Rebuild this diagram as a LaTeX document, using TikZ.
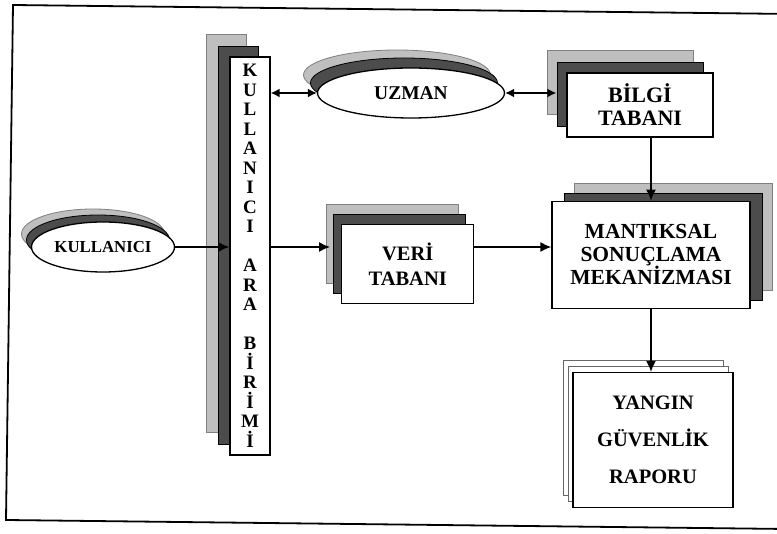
\documentclass[tikz,border=0pt]{standalone}
\usepackage{fontspec}
\setmainfont{Liberation Serif}
\usetikzlibrary{arrows.meta,positioning,shapes.geometric,shadows}

\begin{document}
\begin{tikzpicture}[
  x=1pt, y=-1pt,
  box/.style={draw, rectangle, line width=1.3pt, fill=white, align=center, inner sep=0pt},
  oval/.style={draw, ellipse, line width=1.3pt, fill=white, inner sep=0pt},
  layers/.style n args={4}{
    general shadow={shadow xshift=#3pt, shadow yshift=#4pt, fill=black!25, draw=black!50, line width=0.8pt},
    general shadow={shadow xshift=#1pt, shadow yshift=#2pt, fill=black!70, draw=black, line width=0.8pt}},
  thinlayers/.style={
    general shadow={shadow xshift=-10pt, shadow yshift=12pt, fill=white, draw=black!60, line width=0.8pt},
    general shadow={shadow xshift=-5pt, shadow yshift=6pt, fill=white, draw=black!60, line width=0.8pt}},
  arr/.style={line width=1.6pt, -{Latex[length=11pt,width=10pt]}},
  biarr/.style={line width=1.6pt, {Latex[length=9pt,width=9pt]}-{Latex[length=9pt,width=9pt]}},
  txt/.style={font=\bfseries\fontsize{21.5}{23}\selectfont},
  node distance=63pt and 77pt
]
\useasboundingbox (0,0) rectangle (777,534);
\clip (0,0) rectangle (777,534);

% Frame
\draw[line width=1.8pt] (13,5) -- (792,14) -- (787,529) -- (6,520) -- cycle;

% User side
\node (kab) [box, layers={-12}{11}{-24}{23}, minimum width=40pt, minimum height=398pt,
  font=\bfseries\fontsize{19}{19.5}\selectfont] at (250,256)
  {K\\U\\L\\L\\A\\N\\I\\C\\I\\[19.5pt]A\\R\\A\\[19.5pt]B\\İ\\R\\İ\\M\\İ};
\node (kullanici) [oval, layers={-5}{7}{-10}{13}, minimum width=143pt, minimum height=50pt,
  font=\bfseries\fontsize{16.8}{20}\selectfont] at (103,247) {KULLANICI};

% Expert and knowledge
\node (uzman) [oval, layers={-7}{10}{-14}{18}, minimum width=187pt, minimum height=50pt,
  font=\bfseries\fontsize{19.5}{22}\selectfont] at (411,93) {UZMAN};
\node (bilgi) [box, layers={-10}{11}{-20}{23}, minimum width=146pt, minimum height=64pt,
  font=\bfseries\fontsize{22}{23}\selectfont] at (640,105) {BİLGİ\\TABANI};

% Inference
\node (mant) [box, layers={12}{8}{22}{18}, minimum width=198pt, minimum height=107pt,
  txt, below=63pt of bilgi, xshift=11pt] {MANTIKSAL\\SONUÇLAMA\\MEKANİZMASI};
\node (veri) [box, layers={-8}{10}{-15}{20}, minimum width=132pt, minimum height=79pt,
  font=\bfseries\fontsize{20.5}{25}\selectfont, left=77pt of mant, yshift=-9pt] {VERİ\\TABANI};

% Report
\node (yangin) [box, thinlayers, minimum width=160pt, minimum height=135pt,
  font=\bfseries\fontsize{20.5}{37}\selectfont, below=63pt of mant, xshift=2pt]
  {YANGIN\\GÜVENLİK\\RAPORU};

% Edges
\draw[arr] (kullanici) -- (kullanici -| kab.west);
\draw[arr, shorten >=11pt] (kab.east |- kullanici) -- (veri.west |- kullanici);
\draw[arr] (veri.east |- kullanici) -- (mant.west |- kullanici);
\draw[biarr] (kab.east |- uzman) -- (uzman.west);
\draw[biarr, shorten >=10pt] (uzman.east) -- (bilgi.west |- uzman);
\draw[arr] (bilgi.south -| mant.north) -- (mant.north);
\draw[arr] (mant.south) -- (mant.south |- yangin.north);

\end{tikzpicture}
\end{document}
